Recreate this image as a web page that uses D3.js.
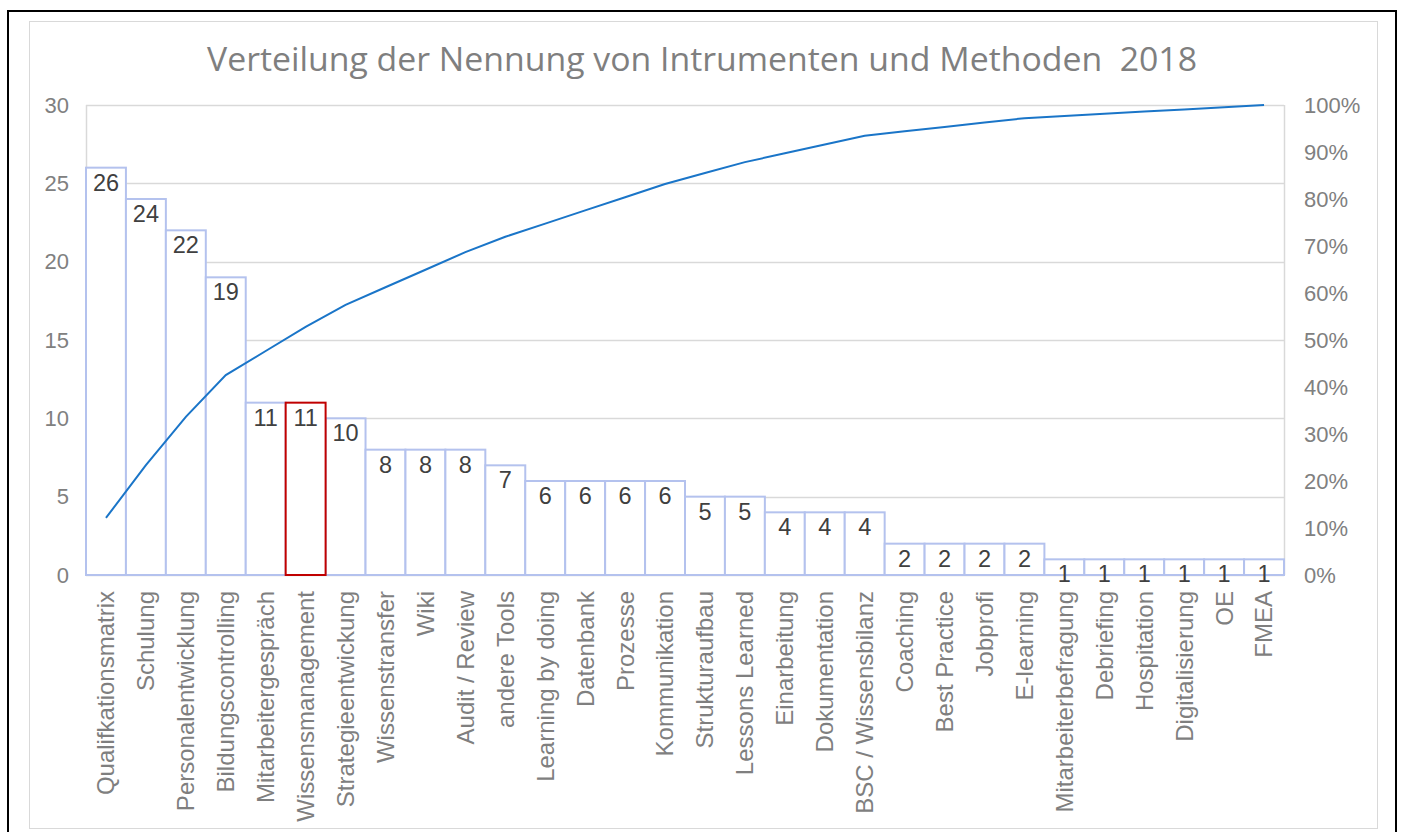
<!DOCTYPE html>
<html>
<head>
<meta charset="utf-8">
<script src="https://cdn.jsdelivr.net/npm/d3@7"></script>
<style>
  html, body { margin: 0; padding: 0; background: #fff; }
  svg { display: block; }
</style>
</head>
<body>
<svg id="chart" width="1402" height="832"></svg>
<script>
// ---------- data ----------
const categories = [
  "Qualifkationsmatrix", "Schulung", "Personalentwicklung", "Bildungscontrolling",
  "Mitarbeitergespräch", "Wissensmanagement", "Strategieentwickung", "Wissenstransfer",
  "Wiki", "Audit / Review", "andere Tools", "Learning by doing", "Datenbank", "Prozesse",
  "Kommunikation", "Strukturaufbau", "Lessons Learned", "Einarbeitung", "Dokumentation",
  "BSC / Wissensbilanz", "Coaching", "Best Practice", "Jobprofi", "E-learning",
  "Mitarbeiterbefragung", "Debriefing", "Hospitation", "Digitalisierung", "OE", "FMEA"
];
const counts = [26, 24, 22, 19, 11, 11, 10, 8, 8, 8, 7, 6, 6, 6, 6, 5, 5, 4, 4, 4, 2, 2, 2, 2, 1, 1, 1, 1, 1, 1];
const highlighted = ["Wissensmanagement"];
const countTicks = [0, 5, 10, 15, 20, 25, 30];
const percentTicks = [0, 0.1, 0.2, 0.3, 0.4, 0.5, 0.6, 0.7, 0.8, 0.9, 1];
const title = "Verteilung der Nennung von Intrumenten und Methoden  2018";

// pareto: cumulative share of all mentions
const total = d3.sum(counts);
const cumShare = Array.from(d3.cumsum(counts), (c) => c / total);

// ---------- layout ----------
const plot = { left: 86, right: 1284, top: 105, bottom: 575 };
const svg = d3.select("#chart");
const sans = "'Liberation Sans', Arial, sans-serif";

const x = d3.scaleBand().domain(categories).range([plot.left, plot.right]).padding(0);
const y = d3.scaleLinear().domain([0, 30]).range([plot.bottom, plot.top]);
const yPct = d3.scaleLinear().domain([0, 1]).range([plot.bottom, plot.top]);

// frames
svg.append("rect")
  .attr("x", 8).attr("y", 11).attr("width", 1388).attr("height", 840)
  .attr("fill", "none").attr("stroke", "#000").attr("stroke-width", 2);
svg.append("rect")
  .attr("x", 29.5).attr("y", 21.5).attr("width", 1348).attr("height", 807)
  .attr("fill", "none").attr("stroke", "#d9d9d9").attr("stroke-width", 1);

// title
svg.append("text")
  .attr("x", 702).attr("y", 71)
  .attr("text-anchor", "middle")
  .attr("font-family", "'Open Sans', sans-serif")
  .attr("font-size", 33)
  .attr("textLength", 990)
  .attr("lengthAdjust", "spacingAndGlyphs")
  .attr("fill", "#7f7f7f")
  .attr("xml:space", "preserve")
  .style("white-space", "pre")
  .text(title);

// gridlines
svg.append("g")
  .selectAll("line")
  .data(countTicks)
  .join("line")
  .attr("x1", plot.left).attr("x2", plot.right)
  .attr("y1", (d) => Math.round(y(d)) + 0.5).attr("y2", (d) => Math.round(y(d)) + 0.5)
  .attr("stroke", "#d9d9d9").attr("stroke-width", 1.5);
svg.append("g")
  .selectAll("line")
  .data([plot.left, plot.right])
  .join("line")
  .attr("x1", (d) => d + 0.5).attr("x2", (d) => d + 0.5)
  .attr("y1", plot.top).attr("y2", plot.bottom)
  .attr("stroke", "#d9d9d9").attr("stroke-width", 1.5);

// left axis
const leftAxis = svg.append("g")
  .attr("transform", `translate(${plot.left},0)`)
  .call(d3.axisLeft(y).tickValues(countTicks).tickSize(0).tickPadding(17));
leftAxis.select(".domain").remove();
leftAxis.selectAll("text")
  .attr("font-family", sans)
  .attr("font-size", 22)
  .attr("fill", "#808080");

// right axis
const rightAxis = svg.append("g")
  .attr("transform", `translate(${plot.right},0)`)
  .call(d3.axisRight(yPct).tickValues(percentTicks).tickFormat(d3.format(".0%")).tickSize(0).tickPadding(20));
rightAxis.select(".domain").remove();
rightAxis.selectAll("text")
  .attr("font-family", sans)
  .attr("font-size", 22)
  .attr("fill", "#808080");

// bars
const bars = svg.append("g")
  .selectAll("g")
  .data(categories.map((c, i) => ({ cat: c, value: counts[i] })))
  .join("g");

bars.append("rect")
  .attr("x", (d) => x(d.cat))
  .attr("y", (d) => y(d.value))
  .attr("width", x.bandwidth())
  .attr("height", (d) => y(0) - y(d.value))
  .attr("fill", "#fff")
  .attr("stroke", (d) => (highlighted.includes(d.cat) ? "#c00000" : "#b4c2ee"))
  .attr("stroke-width", 2);

// raise highlighted so its red outline sits on top
bars.filter((d) => highlighted.includes(d.cat)).raise();

bars.append("text")
  .attr("x", (d) => x(d.cat) + x.bandwidth() / 2)
  .attr("y", (d) => y(d.value) + 23)
  .attr("text-anchor", "middle")
  .attr("font-family", sans)
  .attr("font-size", 23.5)
  .attr("fill", "#404040")
  .text((d) => d.value);

// category labels
svg.append("g")
  .selectAll("text")
  .data(categories)
  .join("text")
  .attr("transform", (d) => `translate(${x(d) + x.bandwidth() / 2},${plot.bottom + 16}) rotate(-90)`)
  .attr("text-anchor", "end")
  .attr("dy", "0.35em")
  .attr("font-family", sans)
  .attr("font-size", 24)
  .attr("fill", "#7f7f7f")
  .text((d) => d);

// cumulative line
const line = d3.line()
  .x((d, i) => x(categories[i]) + x.bandwidth() / 2)
  .y((d) => yPct(d));
svg.append("path")
  .datum(cumShare)
  .attr("d", line)
  .attr("fill", "none")
  .attr("stroke", "#1a75c8")
  .attr("stroke-width", 2);
</script>
</body>
</html>
